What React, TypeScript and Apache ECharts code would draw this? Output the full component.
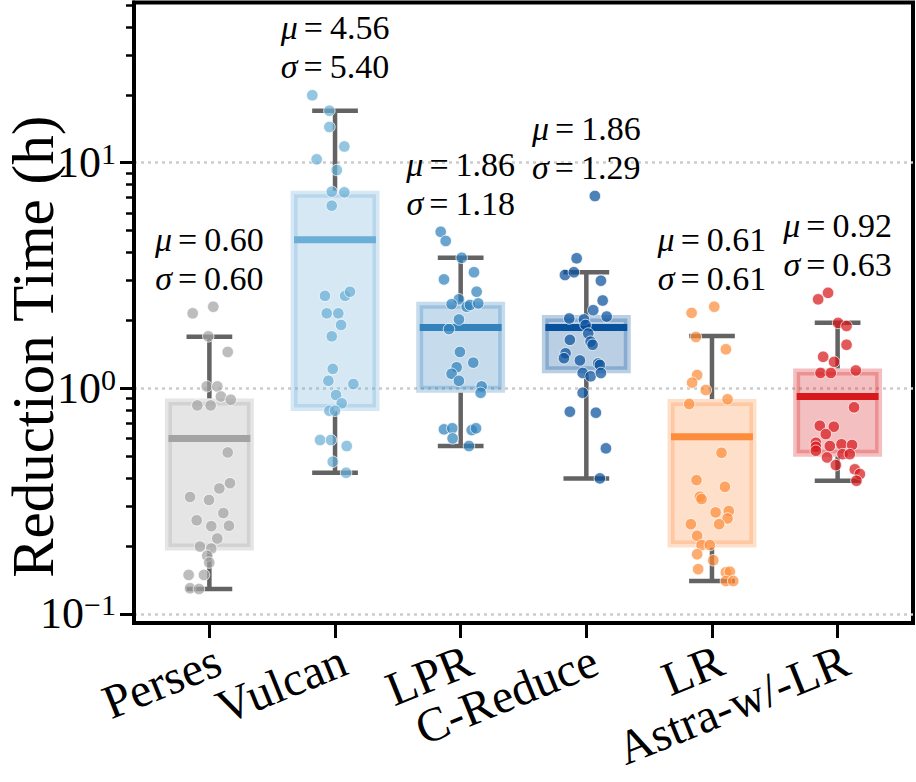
import React, { useEffect, useRef } from 'react';
import * as echarts from 'echarts';

// Tools compared (x categories)
const categories = ['Perses', 'Vulcan', 'LPR', 'C-Reduce', 'LR', 'Astra-w/-LR'];
const colors = ['#a3a3a3', '#6baed6', '#3182bd', '#08519c', '#fd8d3c', '#d7191c'];

// Summary statistics per tool (hours)
const means = [0.6, 4.56, 1.86, 1.86, 0.61, 0.92];
const sigmas = [0.6, 5.4, 1.18, 1.29, 0.61, 0.63];
const boxLow = [0.198, 0.822, 0.991, 1.208, 0.204, 0.516];
const boxHigh = [0.871, 7.25, 2.335, 2.039, 0.865, 1.183];
const whiskerLow = [0.129, 0.4225, 0.555, 0.399, 0.14, 0.3895];
const whiskerHigh = [1.693, 17.0, 3.79, 3.267, 1.705, 1.953];

// Per-benchmark reduction times (hours) and horizontal strip jitter
const persesTimes = [2.15, 2.3, 1.7, 1.45, 1.02, 1.02, 0.92, 0.89, 0.84, 0.84, 0.52, 0.38, 0.36, 0.33, 0.32, 0.28, 0.26, 0.245, 0.246, 0.216, 0.199, 0.195, 0.181, 0.169, 0.149, 0.149, 0.13, 0.129];
const persesJitter = [-0.133, 0.031, -0.009, 0.146, -0.021, 0.063, 0.092, 0.17, -0.096, 0.01, 0.146, 0.164, 0.079, -0.154, -0.003, 0.111, -0.101, 0.015, 0.156, 0.063, -0.075, 0.015, -0.017, -0.001, -0.165, -0.043, -0.154, -0.083];

const vulcanTimes = [19.9, 17.0, 14.4, 11.8, 10.35, 9.28, 7.44, 7.39, 6.45, 2.57, 2.57, 2.68, 2.15, 2.15, 1.91, 1.7, 1.22, 1.08, 1.045, 0.934, 0.858, 0.796, 0.796, 0.59, 0.59, 0.555, 0.473, 0.4225];
const vulcanJitter = [-0.181, -0.045, -0.045, 0.074, -0.146, 0.014, -0.026, 0.074, -0.026, -0.08, 0.08, 0.119, -0.066, 0.026, 0.048, -0.026, -0.018, -0.053, 0.146, 0.008, 0.053, -0.045, 0.0, -0.119, -0.032, 0.093, -0.018, 0.088];

const lprTimes = [4.94, 4.5, 3.79, 3.27, 3.04, 2.68, 2.48, 2.36, 2.3, 2.34, 2.38, 2.02, 1.83, 1.45, 1.3, 1.24, 1.16, 1.08, 1.02, 0.956, 0.658, 0.665, 0.6, 0.653, 0.665, 0.555];
const lprJitter = [-0.159, -0.119, 0.008, 0.106, -0.133, 0.127, -0.014, -0.072, 0.048, 0.074, 0.14, -0.014, -0.093, -0.006, 0.1, -0.032, -0.072, -0.014, 0.167, 0.159, -0.133, -0.067, -0.064, 0.088, 0.122, 0.066];

const creduceTimes = [7.12, 3.77, 3.18, 3.27, 3.0, 2.45, 2.22, 2.08, 2.04, 2.02, 1.91, 1.75, 1.64, 1.61, 1.56, 1.43, 1.36, 1.33, 1.29, 1.27, 1.17, 1.13, 1.17, 0.956, 0.788, 0.78, 0.542, 0.399];
const creduceJitter = [0.068, -0.077, -0.17, -0.099, 0.116, 0.13, 0.055, 0.162, -0.136, -0.019, -0.006, 0.015, -0.131, 0.034, 0.05, -0.165, -0.178, -0.051, 0.095, 0.108, -0.029, 0.034, 0.116, -0.029, -0.131, 0.076, 0.156, 0.108];

const lrTimes = [2.16, 2.3, 1.69, 1.49, 1.145, 1.06, 0.983, 0.894, 0.852, 0.518, 0.392, 0.366, 0.331, 0.323, 0.282, 0.286, 0.265, 0.25, 0.25, 0.222, 0.202, 0.202, 0.184, 0.173, 0.158, 0.153, 0.154, 0.14, 0.14];
const lrJitter = [-0.162, 0.018, -0.128, 0.111, -0.118, -0.158, -0.049, 0.124, -0.181, 0.076, -0.123, 0.103, -0.096, -0.083, 0.029, 0.134, 0.124, -0.168, 0.057, -0.118, -0.083, -0.017, -0.118, 0.01, -0.11, 0.111, 0.142, 0.111, 0.169];

const astraTimes = [2.48, 2.65, 1.95, 1.89, 1.56, 1.38, 1.31, 1.17, 1.17, 1.2, 0.824, 0.683, 0.676, 0.627, 0.574, 0.551, 0.529, 0.555, 0.565, 0.561, 0.494, 0.511, 0.511, 0.457, 0.4375, 0.417, 0.3895];
const astraJitter = [-0.155, -0.076, 0.004, 0.071, 0.071, -0.115, -0.028, -0.136, -0.054, 0.145, 0.131, -0.142, -0.03, -0.094, -0.173, -0.173, -0.173, -0.062, 0.031, 0.115, -0.084, 0.039, 0.097, -0.014, 0.137, 0.177, 0.15];

// Axis ranges and tick positions
const yMin = 0.0912;
const yMax = 51.3;
const yMajorTicks = [0.1, 1, 10];
const yMinorTicks = [0.2, 0.3, 0.4, 0.5, 0.6, 0.7, 0.8, 0.9, 2, 3, 4, 5, 6, 7, 8, 9, 20, 30, 40, 50];
const xMin = -0.6;
const xMax = 5.6;

const SERIF = '"Liberation Serif", "Times New Roman", serif';
const BOX_HALF = 0.326;
const CAP_HALF = 0.182;
const WHISKER = '#636363';
const X_LABEL_ROTATE = 22;

function rgba(hex: string, a: number): string {
  const n = parseInt(hex.slice(1), 16);
  return `rgba(${(n >> 16) & 255},${(n >> 8) & 255},${n & 255},${a})`;
}

export default function App() {
  const ref = useRef<HTMLDivElement>(null);

  useEffect(() => {
    if (!ref.current) return;
    const chart = echarts.init(ref.current, null, { renderer: 'svg' });

    const groups = [
      { times: persesTimes, jitter: persesJitter },
      { times: vulcanTimes, jitter: vulcanJitter },
      { times: lprTimes, jitter: lprJitter },
      { times: creduceTimes, jitter: creduceJitter },
      { times: lrTimes, jitter: lrJitter },
      { times: astraTimes, jitter: astraJitter },
    ];

    const logMin = Math.log10(yMin);
    const logMax = Math.log10(yMax);

    const boxData = categories.map((_, i) => [i, boxLow[i], boxHigh[i], means[i], whiskerLow[i], whiskerHigh[i]]);

    const renderBox = (params: any, api: any) => {
      const i = api.value(0);
      const q1 = api.value(1);
      const q3 = api.value(2);
      const mu = api.value(3);
      const wlo = api.value(4);
      const whi = api.value(5);
      const color = colors[params.dataIndex];
      const [xl, yTop] = api.coord([i - BOX_HALF, q3]);
      const [xr, yBot] = api.coord([i + BOX_HALF, q1]);
      const [cx, yMu] = api.coord([i, mu]);
      const yLo = api.coord([i, wlo])[1];
      const yHi = api.coord([i, whi])[1];
      const capL = api.coord([i - CAP_HALF, whi])[0];
      const capR = api.coord([i + CAP_HALF, whi])[0];
      const fill = rgba(color, 0.28);
      const wStyle = { stroke: WHISKER, lineWidth: 4.5, lineCap: 'butt' };
      return {
        type: 'group',
        children: [
          { type: 'line', shape: { x1: cx, y1: yTop - 3.5, x2: cx, y2: yHi }, style: wStyle },
          { type: 'line', shape: { x1: cx, y1: yBot + 3.5, x2: cx, y2: yLo }, style: wStyle },
          { type: 'line', shape: { x1: capL, y1: yHi, x2: capR, y2: yHi }, style: wStyle },
          { type: 'line', shape: { x1: capL, y1: yLo, x2: capR, y2: yLo }, style: wStyle },
          {
            type: 'rect',
            shape: { x: xl, y: yTop, width: xr - xl, height: yBot - yTop },
            style: { fill, stroke: fill, lineWidth: 7 },
          },
          { type: 'line', shape: { x1: xl, y1: yMu, x2: xr, y2: yMu }, style: { stroke: color, lineWidth: 7 } },
        ],
      };
    };

    const pointSeries = groups.map((g, i) => ({
      type: 'scatter',
      name: categories[i],
      xAxisIndex: 0,
      yAxisIndex: 0,
      z: 3,
      symbol: 'circle',
      symbolSize: 11.5,
      itemStyle: { color: colors[i], opacity: 0.72, borderColor: '#ffffff', borderWidth: 1 },
      emphasis: { disabled: true },
      data: g.times.map((t, k) => [i + g.jitter[k], t]),
    }));

    const statSeries = {
      type: 'scatter',
      xAxisIndex: 0,
      yAxisIndex: 0,
      z: 4,
      symbolSize: 0,
      silent: true,
      itemStyle: { opacity: 1 },
      data: groups.map((g, i) => [i, Math.max(...g.times)]),
      label: {
        show: true,
        position: 'top',
        distance: 9,
        align: 'center',
        color: '#000',
        opacity: 1,
        formatter: (p: any) => {
          const i = p.dataIndex;
          return `{g|μ}{e|=}{n|${means[i].toFixed(2)}}\n{g|σ}{e|=}{n|${sigmas[i].toFixed(2)}}`;
        },
        rich: {
          g: { fontFamily: SERIF, fontStyle: 'italic', fontSize: 34, lineHeight: 39, color: '#000' },
          e: { fontFamily: SERIF, fontSize: 34, lineHeight: 39, color: '#000', padding: [0, 7, 0, 6] },
          n: { fontFamily: SERIF, fontSize: 34, lineHeight: 39, color: '#000' },
        },
      },
    };

    const tickFmt = (v: number) => {
      const e = Math.round(v);
      return `{b|10}{s|${e < 0 ? '\u2212' + -e : e}}`;
    };

    chart.setOption({
      animation: false,
      backgroundColor: '#ffffff',
      grid: {
        left: 134,
        right: 3,
        top: 2.5,
        bottom: 159,
        show: true,
        borderColor: '#000',
        borderWidth: 4,
        containLabel: false,
        outerBoundsMode: 'none',
      },
      xAxis: {
        type: 'value',
        min: xMin,
        max: xMax,
        axisLine: { show: true, onZero: false, lineStyle: { color: '#000', width: 4 } },
        axisTick: { show: true, customValues: categories.map((_, i) => i), length: 15, lineStyle: { color: '#000', width: 3 } },
        axisLabel: { show: false },
        splitLine: { show: false },
      },
      yAxis: [
        {
          type: 'log',
          logBase: 10,
          min: yMin,
          max: yMax,
          axisLine: { show: false },
          axisTick: { show: false },
          axisLabel: { show: false },
          splitLine: { show: false },
        },
        {
          type: 'value',
          position: 'left',
          min: logMin,
          max: logMax,
          name: 'Reduction Time (h)',
          nameLocation: 'middle',
          nameGap: 78,
          nameMoveOverlap: false,
          nameTextStyle: { fontFamily: SERIF, fontSize: 59, lineHeight: 46, color: '#000', padding: [0, 68, 0, 0] },
          axisLine: { show: true, onZero: false, lineStyle: { color: '#000', width: 4 } },
          axisTick: { show: true, customValues: yMajorTicks.map((v) => Math.log10(v)), length: 14, lineStyle: { color: '#000', width: 3 } },
          axisLabel: {
            customValues: yMajorTicks.map((v) => Math.log10(v)),
            formatter: tickFmt,
            margin: 18,
            rich: {
              b: { fontFamily: SERIF, fontSize: 44, color: '#000', lineHeight: 44 },
              s: { fontFamily: SERIF, fontSize: 30, color: '#000', lineHeight: 44, padding: [0, 0, 18, 0] },
            },
          },
          splitLine: { show: true, lineStyle: { color: '#cccccc', width: 2.5, type: [3, 4] } },
        },
        {
          type: 'value',
          position: 'left',
          min: logMin,
          max: logMax,
          axisLine: { show: false },
          axisTick: { show: true, customValues: yMinorTicks.map((v) => Math.log10(v)), length: 8, lineStyle: { color: '#000', width: 2.5 } },
          axisLabel: { show: false },
          splitLine: { show: false },
        },
      ],
      series: [
        {
          type: 'custom',
          xAxisIndex: 0,
          yAxisIndex: 0,
          z: 2,
          silent: true,
          renderItem: renderBox,
          data: boxData,
        },
        ...pointSeries,
        statSeries,
      ],
    });

    // Rotated category labels under each tick
    const axisY = chart.convertToPixel({ yAxisIndex: 0 }, yMin) as number;
    chart.setOption({
      graphic: categories.map((name, i) => ({
        type: 'text',
        x: chart.convertToPixel({ xAxisIndex: 0 }, i) as number,
        y: axisY + 13,
        rotation: (X_LABEL_ROTATE * Math.PI) / 180,
        silent: true,
        style: {
          text: name,
          fontFamily: SERIF,
          fontSize: 48,
          fill: '#000',
          align: 'right',
          verticalAlign: 'top',
        },
      })),
    });

    return () => chart.dispose();
  }, []);

  return (
    <div
      ref={ref}
      style={{ position: 'fixed', left: 0, top: 0, width: 916, height: 782, background: '#fff' }}
    />
  );
}
